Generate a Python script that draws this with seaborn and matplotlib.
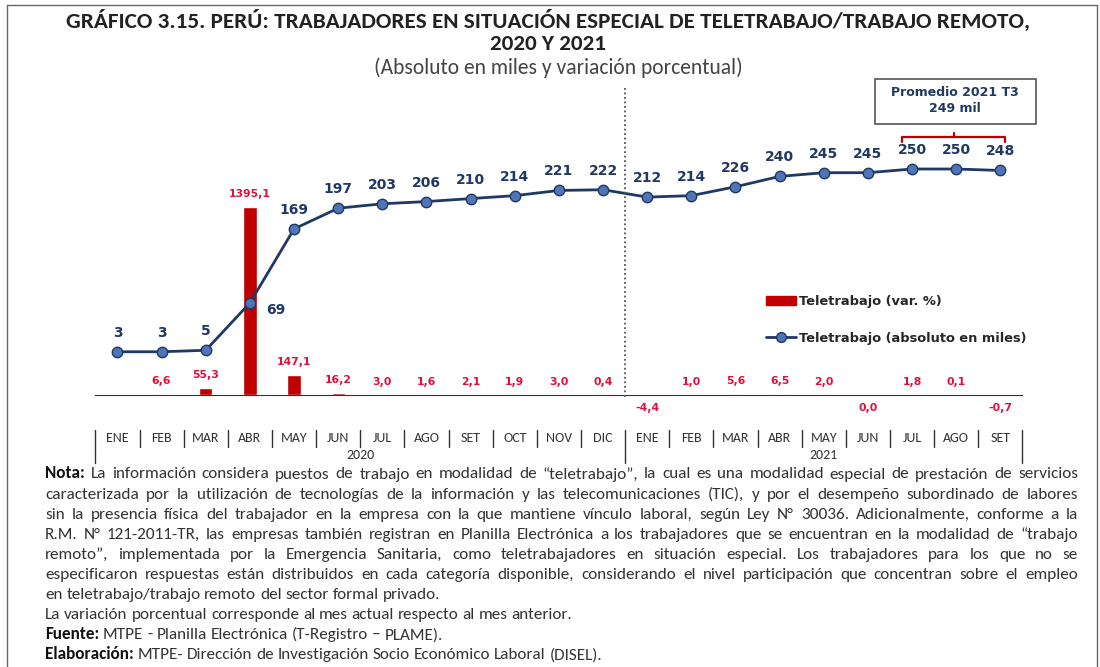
import matplotlib
matplotlib.use("Agg")
import numpy as np
import pandas as pd
import matplotlib.pyplot as plt
import seaborn as sns
from matplotlib.lines import Line2D
from matplotlib.patches import Patch, Rectangle
from matplotlib.transforms import blended_transform_factory

# Data
months = ["ENE", "FEB", "MAR", "ABR", "MAY", "JUN", "JUL", "AGO", "SET", "OCT", "NOV", "DIC",
          "ENE", "FEB", "MAR", "ABR", "MAY", "JUN", "JUL", "AGO", "SET"]
years = ["2020"] * 12 + ["2021"] * 9
var_pct = [np.nan, 6.6, 55.3, 1395.1, 147.1, 16.2, 3.0, 1.6, 2.1, 1.9, 3.0, 0.4,
           -4.4, 1.0, 5.6, 6.5, 2.0, 0.0, 1.8, 0.1, -0.7]
absolute = [3, 3, 5, 69, 169, 197, 203, 206, 210, 214, 221, 222,
            212, 214, 226, 240, 245, 245, 250, 250, 248]
year_labels = ["2020", "2021"]
promedio_text = "Promedio 2021 T3\n249 mil"
bar_label = "Teletrabajo (var. %)"
line_label = "Teletrabajo (absoluto en miles)"

title = ("GRÁFICO 3.15. PERÚ: TRABAJADORES EN SITUACIÓN ESPECIAL DE TELETRABAJO/TRABAJO REMOTO,\n"
         "2020 Y 2021")
subtitle = "(Absoluto en miles y variación porcentual)"

note_lines = [
    [("Nota:", "bold"), ("La información considera puestos de trabajo en modalidad de “teletrabajo”, la cual es una modalidad especial de prestación de servicios", "normal")],
    [("caracterizada por la utilización de tecnologías de la información y las telecomunicaciones (TIC), y por el desempeño subordinado de labores", "normal")],
    [("sin la presencia física del trabajador en la empresa con la que mantiene vínculo laboral, según Ley N° 30036. Adicionalmente, conforme a la", "normal")],
    [("R.M. N° 121-2011-TR, las empresas también registran en Planilla Electrónica a los trabajadores que se encuentran en la modalidad de “trabajo", "normal")],
    [("remoto”, implementada por la Emergencia Sanitaria, como teletrabajadores en situación especial. Los trabajadores para los que no se", "normal")],
    [("especificaron respuestas están distribuidos en cada categoría disponible, considerando el nivel participación que concentran sobre el empleo", "normal")],
    [("en teletrabajo/trabajo remoto del sector formal privado.", "normal")],
    [("La variación porcentual corresponde al mes actual respecto al mes anterior.", "normal")],
    [("Fuente:", "bold"), ("MTPE - Planilla Electrónica (T-Registro – PLAME).", "normal")],
    [("Elaboración:", "bold"), ("MTPE- Dirección de Investigación Socio Económico Laboral (DISEL).", "normal")],
]
justified = [True, True, True, True, True, True, False, False, False, False]

RED = "#C00000"
LABEL_RED = "#E0103C"
NAVY = "#1F3864"
MARKER = "#4F74B8"
CALIBRI = ["Carlito", "DejaVu Sans"]

W, H = 1100, 667

sns.set_style("white")
plt.rcParams["font.family"] = ["DejaVu Sans"]

fig = plt.figure(figsize=(W / 100, H / 100), dpi=100)


def fy(y):
    return 1 - y / H


# main axes: x from 95.4 to 1022.4 px, y from 140 to 400 px
ax = fig.add_axes([95.4 / W, fy(400), 927 / W, 260 / H])
df = pd.DataFrame({
    "period": [f"{m} {y}" for m, y in zip(months, years)],
    "var": var_pct,
    "abs": absolute,
    "pos": np.arange(len(months)),
})

sns.barplot(data=df, x="period", y="var", order=list(df["period"]), color=RED,
            saturation=1, width=0.3, ax=ax, errorbar=None)
ax.set_xlim(-0.5, 20.5)
ax.set_ylim(-37.1, 1891.7)

ax2 = ax.twinx()
sns.lineplot(data=df, x="pos", y="abs", ax=ax2, color=NAVY, lw=2, marker="o",
             markersize=7.5, markerfacecolor=MARKER, markeredgecolor=NAVY,
             markeredgewidth=1)
ax2.set_xlim(-0.5, 20.5)
ax2.set_ylim(-62.2, 289.2)

for a in (ax, ax2):
    for s in a.spines.values():
        s.set_visible(False)
    a.set_yticks([])
    a.set_ylabel("")
    a.set_xlabel("")
ax.spines["bottom"].set_visible(True)
ax.spines["bottom"].set_position(("data", 0))
ax.spines["bottom"].set_color("#333333")
ax.set_xticks(np.arange(-0.5, 21, 1))
ax.set_xticklabels([])
ax.tick_params(axis="x", length=4, direction="out", color="#333333", width=1)
ax2.set_xticks([])

# bar labels
for i, v in enumerate(var_pct):
    if np.isnan(v):
        continue
    txt = f"{v:.1f}".replace(".", ",")
    if v > 0:
        ax.annotate(txt, (i, v), xytext=(0, 13), textcoords="offset pixels",
                    ha="center", va="center", fontsize=7.8, fontweight="bold",
                    color=LABEL_RED)
    else:
        ax.annotate(txt, (i, 0), xytext=(0, -13), textcoords="offset pixels",
                    ha="center", va="center", fontsize=7.8, fontweight="bold",
                    color=LABEL_RED)

# line labels
for i, v in enumerate(absolute):
    if v == 69:
        ax2.annotate(str(v), (i, v), xytext=(26, -7), textcoords="offset pixels",
                     ha="center", va="center", fontsize=10, fontweight="bold",
                     color=NAVY)
    else:
        ax2.annotate(str(v), (i, v), xytext=(0, 19), textcoords="offset pixels",
                     ha="center", va="center", fontsize=10, fontweight="bold",
                     color=NAVY)

# category table under the axis
tr = blended_transform_factory(ax.transData, fig.transFigure)
for b in np.arange(-0.5, 21, 1):
    bottom = 463 if b in (-0.5, 11.5, 20.5) else 447
    fig.add_artist(Line2D([b, b], [fy(430), fy(bottom)], transform=tr,
                          color="#333333", lw=1))
for i, m in enumerate(months):
    fig.text(i, fy(438), m, transform=tr, ha="center", va="center",
             fontsize=10, family=CALIBRI, color="#333333")
fig.text(5.5, fy(455), year_labels[0], transform=tr, ha="center", va="center",
         fontsize=10, family=CALIBRI, color="#333333")
fig.text(16, fy(455), year_labels[1], transform=tr, ha="center", va="center",
         fontsize=10, family=CALIBRI, color="#333333")

# dotted separator between years
fig.add_artist(Line2D([11.5, 11.5], [fy(88), fy(399)], transform=tr,
                      color="#555555", lw=1.3, ls=(0, (1, 1.5))))

# promedio box and bracket
fig.add_artist(Rectangle((875 / W, fy(124)), 161 / W, 45 / H, transform=fig.transFigure,
                         fill=False, edgecolor="#555555", lw=1.2))
fig.text(955 / W, fy(101), promedio_text, ha="center", va="center", fontsize=9,
         fontweight="bold", color=NAVY, linespacing=1.3)
fig.add_artist(Line2D([17.78, 17.78, 20.1, 20.1], [fy(142), fy(137), fy(137), fy(142)],
                      transform=tr, color=RED, lw=1.6))
fig.add_artist(Line2D([18.94, 18.94], [fy(137), fy(133)], transform=tr, color=RED, lw=1.6))

# legend
handles = [Patch(facecolor=RED, edgecolor=RED),
           Line2D([], [], color=NAVY, lw=2, marker="o", markersize=7,
                  markerfacecolor=MARKER, markeredgecolor=NAVY)]
fig.legend(handles, [bar_label, line_label], loc="upper left",
           bbox_to_anchor=(761 / W, fy(290)), frameon=False,
           prop={"weight": "bold", "size": 9.4}, handlelength=2.3,
           handletextpad=0.2, labelspacing=1.8, borderaxespad=0)

# title
fig.text(548 / W, fy(32), title, ha="center", va="center", fontsize=16.7,
         fontweight="bold", family=CALIBRI, color="#222222", linespacing=1.1)
fig.text(558 / W, fy(68), subtitle, ha="center", va="center", fontsize=15.5,
         family=CALIBRI, color="#444444")

# frame
for xs, ys in [([7, 7], [5, 667]), ([7, 1097], [5, 5]), ([1097, 1097], [5, 667])]:
    fig.add_artist(Line2D([x / W for x in xs], [fy(y) for y in ys], color="#666666", lw=1))

# justified note text
renderer = fig.canvas.get_renderer()
x_left, x_right = 45, 1078
note_size = 12.3
probe = fig.text(0, 0, "a a", fontsize=note_size, family=CALIBRI)
w_sp = probe.get_window_extent(renderer).width
probe.set_text("aa")
w_sp -= probe.get_window_extent(renderer).width
probe.remove()

for row, (segments, just) in enumerate(zip(note_lines, justified)):
    y = 478.5 + row * 20.1  # baseline
    words = []
    for txt, weight in segments:
        for w in txt.split(" "):
            if w:
                words.append((w, weight))
    arts = []
    for w, weight in words:
        arts.append(fig.text(0, fy(y), w, fontsize=note_size, family=CALIBRI,
                             fontweight=weight, va="baseline", ha="left",
                             color="#111111" if weight == "bold" else "#333333"))
    widths = [a.get_window_extent(renderer).width for a in arts]
    if just and len(arts) > 1:
        gap = (x_right - x_left - sum(widths)) / (len(arts) - 1)
    else:
        gap = w_sp
    x = x_left
    for a, wd in zip(arts, widths):
        a.set_x(x / W)
        x += wd + gap

fig.savefig("out.png", dpi=100)
